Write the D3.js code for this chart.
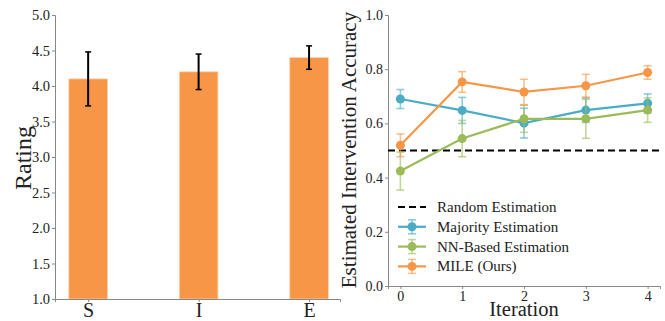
<!DOCTYPE html>
<html>
<head>
<meta charset="utf-8">
<script src="https://cdn.jsdelivr.net/npm/d3@7"></script>
<style>
  body { margin: 0; background: #fff; }
  svg { display: block; }
  text { font-family: "Liberation Serif", "DejaVu Serif", serif; fill: #222; }
</style>
</head>
<body>
<div id="chart"></div>
<script>
// left panel: ratings
const ratingCats = ['S', 'I', 'E'];
const ratingVals = [4.1, 4.2, 4.4];
const ratingErr = [0.38, 0.25, 0.165];
const ratingTicks = [1.0, 1.5, 2.0, 2.5, 3.0, 3.5, 4.0, 4.5, 5.0];

// right panel: accuracy per iteration
const iterations = [0, 1, 2, 3, 4];
const randomLevel = 0.5;
const seriesNames = ['Majority Estimation', 'NN-Based Estimation', 'MILE (Ours)'];
const majorityVals = [0.690, 0.648, 0.601, 0.649, 0.674];
const majorityErr  = [0.035, 0.048, 0.055, 0.045, 0.035];
const nnVals = [0.424, 0.544, 0.617, 0.617, 0.649];
const nnErr  = [0.070, 0.067, 0.050, 0.072, 0.045];
const mileVals = [0.519, 0.753, 0.716, 0.739, 0.788];
const mileErr  = [0.042, 0.038, 0.047, 0.042, 0.025];
const accTicks = [0.0, 0.2, 0.4, 0.6, 0.8, 1.0];

const colors = ['#4bacc6', '#9bbb59', '#f79646'];
const barColor = '#f79646';
const spine = '#888';

const W = 665, H = 321;
const svg = d3.select('#chart').append('svg')
    .attr('width', W).attr('height', H);

// ---- left: bar chart ----
const xL = d3.scaleLinear().domain([-0.3, 2.28]).range([55, 340]);
const yL = d3.scaleLinear().domain([1, 5]).range([299, 15]);
const barW = xL(0.35) - xL(0);

const gL = svg.append('g');
gL.selectAll('rect.bar')
    .data(ratingVals)
    .enter().append('rect')
    .attr('class', 'bar')
    .attr('x', (d, i) => xL(i) - barW / 2)
    .attr('width', barW)
    .attr('y', d => yL(d))
    .attr('height', d => yL(1) - yL(d))
    .attr('fill', barColor)
    .attr('stroke', '#fbd3b2')
    .attr('stroke-width', 0.8);

// error bars
const eb = gL.selectAll('g.err').data(ratingVals).enter().append('g');
eb.append('line')
    .attr('x1', (d, i) => xL(i)).attr('x2', (d, i) => xL(i))
    .attr('y1', (d, i) => yL(d - ratingErr[i])).attr('y2', (d, i) => yL(d + ratingErr[i]))
    .attr('stroke', '#000').attr('stroke-width', 2);
[-1, 1].forEach(s => {
    eb.append('line')
        .attr('x1', (d, i) => xL(i) - 3).attr('x2', (d, i) => xL(i) + 3)
        .attr('y1', (d, i) => yL(d + s * ratingErr[i])).attr('y2', (d, i) => yL(d + s * ratingErr[i]))
        .attr('stroke', '#000').attr('stroke-width', 1.5);
});

const axL = gL.append('g').attr('transform', 'translate(55,0)')
    .call(d3.axisLeft(yL).tickValues(ratingTicks).tickFormat(d3.format('.1f')).tickSize(3).tickPadding(2));
const axB = gL.append('g').attr('transform', 'translate(0,299)')
    .call(d3.axisBottom(xL).tickValues([0, 1, 2]).tickFormat(i => ratingCats[i]).tickSize(3).tickPadding(1));
[axL, axB].forEach(a => {
    a.select('.domain').attr('stroke', spine).attr('stroke-width', 1);
    a.selectAll('.tick line').attr('stroke', spine);
});
axL.selectAll('.tick text').style('font-size', '14.5px').attr('fill', '#222');
axB.selectAll('.tick text').style('font-size', '20px').attr('fill', '#222');
gL.append('text')
    .attr('transform', 'translate(31,158) rotate(-90)')
    .attr('text-anchor', 'middle')
    .style('font-size', '24px')
    .text('Rating');

// ---- right: line chart ----
const xR = d3.scaleLinear().domain([-0.2, 4.2]).range([388, 660]);
const yR = d3.scaleLinear().domain([0, 1]).range([286, 15]);
const gR = svg.append('g');

const axRL = gR.append('g').attr('transform', 'translate(388,0)')
    .call(d3.axisLeft(yR).tickValues(accTicks).tickFormat(d3.format('.1f')).tickSize(3).tickPadding(2));
const axRB = gR.append('g').attr('transform', 'translate(0,286)')
    .call(d3.axisBottom(xR).tickValues(iterations).tickFormat(d3.format('d')).tickSize(3).tickPadding(2));
[axRL, axRB].forEach(a => {
    a.select('.domain').attr('stroke', spine).attr('stroke-width', 1);
    a.selectAll('.tick line').attr('stroke', spine);
    a.selectAll('.tick text').style('font-size', '14px').attr('fill', '#222');
});

gR.append('text')
    .attr('transform', 'translate(356,150) rotate(-90)')
    .attr('text-anchor', 'middle')
    .style('font-size', '21px')
    .text('Estimated Intervention Accuracy');
gR.append('text')
    .attr('x', xR(2)).attr('y', 316)
    .attr('text-anchor', 'middle')
    .style('font-size', '20.5px')
    .text('Iteration');

// random baseline
gR.append('line')
    .attr('x1', 388).attr('x2', 660)
    .attr('y1', yR(randomLevel)).attr('y2', yR(randomLevel))
    .attr('stroke', '#000').attr('stroke-width', 2.2)
    .attr('stroke-dasharray', '7,4');

const series = [
    {vals: majorityVals, err: majorityErr},
    {vals: nnVals, err: nnErr},
    {vals: mileVals, err: mileErr}
];
const line = d3.line().x((d, i) => xR(iterations[i])).y(d => yR(d));

series.forEach((s, k) => {
    const g = gR.append('g');
    const c = colors[k];
    // error bars
    const e = g.selectAll('g.e').data(s.vals).enter().append('g')
        .attr('stroke', c).attr('stroke-opacity', 0.6).attr('stroke-width', 1.6);
    e.append('line')
        .attr('x1', (d, i) => xR(iterations[i])).attr('x2', (d, i) => xR(iterations[i]))
        .attr('y1', (d, i) => yR(d - s.err[i])).attr('y2', (d, i) => yR(d + s.err[i]));
    [-1, 1].forEach(sg => {
        e.append('line')
            .attr('x1', (d, i) => xR(iterations[i]) - 4).attr('x2', (d, i) => xR(iterations[i]) + 4)
            .attr('y1', (d, i) => yR(d + sg * s.err[i])).attr('y2', (d, i) => yR(d + sg * s.err[i]));
    });
    g.append('path')
        .datum(s.vals)
        .attr('d', line)
        .attr('fill', 'none')
        .attr('stroke', c)
        .attr('stroke-width', 2.2);
    g.selectAll('circle').data(s.vals).enter().append('circle')
        .attr('cx', (d, i) => xR(iterations[i]))
        .attr('cy', d => yR(d))
        .attr('r', 4.5)
        .attr('fill', c);
});

// legend
const leg = gR.append('g').attr('transform', 'translate(398,207)');
const rowH = 19.8;
const legItems = ['Random Estimation'].concat(seriesNames);
legItems.forEach((name, i) => {
    const r = leg.append('g').attr('transform', `translate(0,${i * rowH})`);
    if (i === 0) {
        r.append('line').attr('x1', 0).attr('x2', 28).attr('y1', 0).attr('y2', 0)
            .attr('stroke', '#000').attr('stroke-width', 2.2).attr('stroke-dasharray', '7,4');
    } else {
        const c = colors[i - 1];
        const eg = r.append('g').attr('stroke', c).attr('stroke-opacity', 0.6).attr('stroke-width', 1.6);
        eg.append('line').attr('x1', 14).attr('x2', 14).attr('y1', -7).attr('y2', 7);
        eg.append('line').attr('x1', 10).attr('x2', 18).attr('y1', -7).attr('y2', -7);
        eg.append('line').attr('x1', 10).attr('x2', 18).attr('y1', 7).attr('y2', 7);
        r.append('line').attr('x1', 0).attr('x2', 28).attr('y1', 0).attr('y2', 0)
            .attr('stroke', c).attr('stroke-width', 2.2);
        r.append('circle').attr('cx', 14).attr('cy', 0).attr('r', 4.5).attr('fill', c);
    }
    r.append('text').attr('x', 39).attr('y', 5)
        .style('font-size', '15px')
        .text(name);
});
</script>
</body>
</html>
